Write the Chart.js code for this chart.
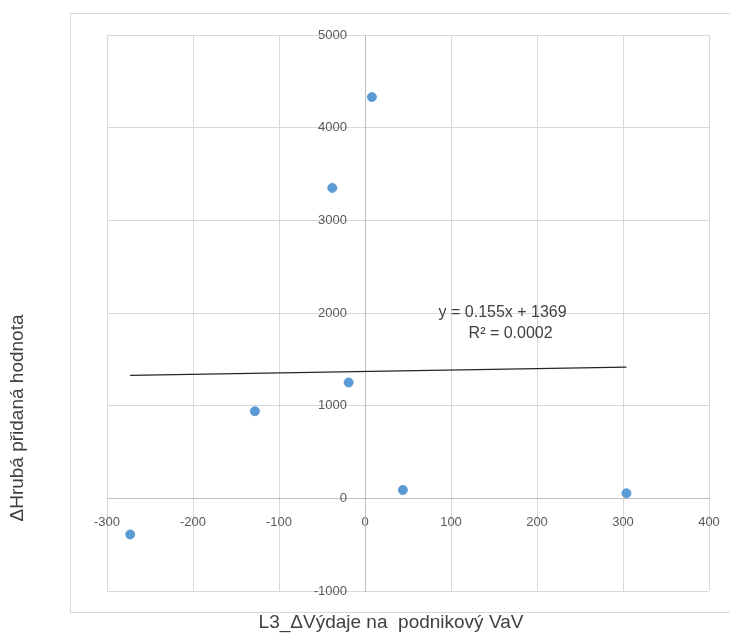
<!DOCTYPE html>
<html>
<head>
<meta charset="utf-8">
<script src="https://cdn.jsdelivr.net/npm/chart.js@4.4.1/dist/chart.umd.min.js"></script>
<style>
  html, body { margin: 0; padding: 0; background: #fff; }
  canvas { display: block; }
</style>
</head>
<body>
<canvas id="graf" width="730" height="635"></canvas>
<script>
// ΔVýdaje na podnikový VaV (x) vs. ΔHrubá přidaná hodnota (y)
const vydaje = [-273, -128, -38, 8, -19, 44, 304];
const hpHodnota = [-390, 940, 3350, 4330, 1250, 90, 55];

// lineární trend (z rovnice v grafu)
const sklon = 0.155;
const posun = 1369;
const rovnice = ['y = 0.155x + 1369', 'R² = 0.0002'];

const osaX = { min: -300, max: 400, krok: 100 };
const osaY = { min: -1000, max: 5000, krok: 1000 };

const popisX = 'L3_ΔVýdaje na  podnikový VaV';
const popisY = 'ΔHrubá přidaná hodnota';

const body = vydaje.map((x, i) => ({ x: x, y: hpHodnota[i] }));
const xMin = Math.min(...vydaje);
const xMax = Math.max(...vydaje);
const trend = [
    { x: xMin, y: sklon * xMin + posun },
    { x: xMax, y: sklon * xMax + posun }
];

const pismo = '"Liberation Sans", Arial, sans-serif';

const popisky = {
    id: 'popisky',
    beforeDraw(chart) {
        const ctx = chart.ctx;
        ctx.save();
        ctx.fillStyle = '#fff';
        ctx.fillRect(0, 0, chart.width, chart.height);
        ctx.strokeStyle = '#d9d9d9';
        ctx.lineWidth = 1;
        ctx.strokeRect(70.5, 13.5, 680, 599);
        ctx.restore();
    },
    afterDraw(chart) {
        const ctx = chart.ctx;
        const sx = chart.scales.x;
        const sy = chart.scales.y;
        ctx.save();

        // popisky osy y vlevo od svislé osy v nule
        ctx.fillStyle = '#595959';
        ctx.font = '13px ' + pismo;
        ctx.textAlign = 'right';
        ctx.textBaseline = 'middle';
        const x0 = sx.getPixelForValue(0);
        sy.ticks.forEach(t => {
            ctx.fillText(String(t.value), x0 - 18, sy.getPixelForValue(t.value));
        });

        ctx.fillStyle = '#404040';
        ctx.textAlign = 'center';

        // rovnice trendu
        ctx.font = '16px ' + pismo;
        const ex = sx.getPixelForValue(160);
        const ey = sy.getPixelForValue(2000);
        ctx.fillText(rovnice[0], ex, ey);
        ctx.fillText(rovnice[1], ex + 8, ey + 21);

        // názvy os
        ctx.font = '19px ' + pismo;
        ctx.fillText(popisX, 391, 623);
        ctx.translate(18, 418);
        ctx.rotate(-Math.PI / 2);
        ctx.fillText(popisY, 0, 0);
        ctx.restore();
    }
};

new Chart(document.getElementById('graf'), {
    type: 'scatter',
    data: {
        datasets: [
            {
                label: 'data',
                data: body,
                backgroundColor: '#5b9bd5',
                borderColor: '#5b9bd5',
                pointRadius: 4.5,
                pointHoverRadius: 4.5
            },
            {
                label: 'trend',
                type: 'line',
                data: trend,
                borderColor: '#262626',
                borderWidth: 1.3,
                pointRadius: 0,
                fill: false
            }
        ]
    },
    options: {
        responsive: false,
        animation: false,
        layout: {
            autoPadding: false,
            padding: { left: 107, right: 21, top: 35, bottom: 44 }
        },
        plugins: {
            legend: { display: false },
            tooltip: { enabled: false }
        },
        scales: {
            x: {
                type: 'linear',
                min: osaX.min,
                max: osaX.max,
                position: { y: 0 },
                afterFit(scale) {
                    scale.paddingLeft = 0;
                    scale.paddingRight = 0;
                },
                ticks: {
                    stepSize: osaX.krok,
                    autoSkip: false,
                    padding: 16,
                    color: '#595959',
                    font: { family: pismo, size: 13 },
                    maxRotation: 0,
                    callback: v => String(v)
                },
                grid: { color: '#d9d9d9', drawTicks: false },
                border: { display: true, color: '#bfbfbf', width: 1 }
            },
            y: {
                type: 'linear',
                min: osaY.min,
                max: osaY.max,
                position: { x: 0 },
                afterFit(scale) {
                    scale.width = 0;
                    scale.paddingTop = 0;
                    scale.paddingBottom = 0;
                },
                ticks: {
                    stepSize: osaY.krok,
                    autoSkip: false,
                    display: false
                },
                grid: { color: '#d9d9d9', drawTicks: false },
                border: { display: true, color: '#bfbfbf', width: 1 }
            }
        }
    },
    plugins: [popisky]
});
</script>
</body>
</html>
